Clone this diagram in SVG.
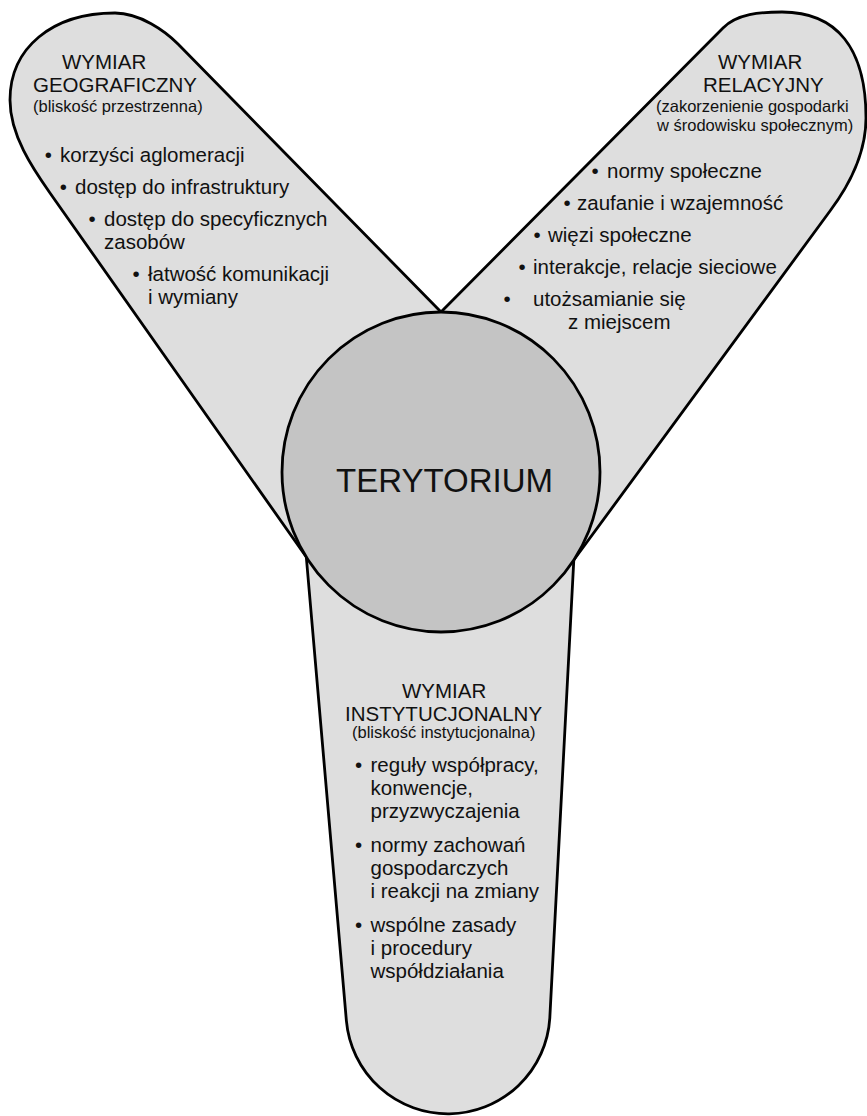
<svg xmlns="http://www.w3.org/2000/svg" width="867" height="1116" viewBox="0 0 867 1116">
<style>
.lobe{fill:#dedede;stroke:#000;stroke-width:2.8;stroke-linejoin:round}
.core{fill:#c4c4c4;stroke:#000;stroke-width:2.8}
text{font-family:"Liberation Sans",Arial,sans-serif;fill:#111}
.h{font-size:20.5px}
.s{font-size:16.5px}
.c{text-anchor:middle}
.t{font-size:33px}
</style>
<rect width="867" height="1116" fill="#fff"/>
<g id="lobe-geo">
<path class="lobe" d="M441,472 L306.3,557 L50,193 C32.7,168.5 10,135 10,100 C10,48 52,13 115,13 C140,13 165.4,31.2 178,44 L441,312 Z"/>
</g>
<g id="lobe-rel">
<path class="lobe" d="M441,472 L441,312 L723,28 C737.1,13.8 760,12 782,12 C836.6,12 866,48 866,118 C866,158 845,191 830,211 L573.8,560 Z"/>
</g>
<g id="lobe-inst">
<path class="lobe" d="M441,472 L306.3,557 L346.4,1020.9 A102,102 0 0 0 549.8,1018.2 L573.8,560 Z"/>
</g>
<g id="connectors"></g>
<g id="core">
<ellipse class="core" cx="441" cy="472" rx="159" ry="160"/>
<text class="t c" x="444.5" y="492">TERYTORIUM</text>
</g>
<g id="text-geo">
<text class="h" x="62" y="69">WYMIAR</text>
<text class="h" x="33" y="92">GEOGRAFICZNY</text>
<text class="s" x="33" y="112">(bliskość przestrzenna)</text>
<text class="h c" x="48.3" y="162">•</text><text class="h" x="60" y="162">korzyści aglomeracji</text>
<text class="h c" x="63.3" y="194">•</text><text class="h" x="75" y="194">dostęp do infrastruktury</text>
<text class="h c" x="92" y="226">•</text><text class="h" x="104" y="226">dostęp do specyficznych</text>
<text class="h" x="104" y="249">zasobów</text>
<text class="h c" x="136" y="281">•</text><text class="h" x="148" y="281">łatwość komunikacji</text>
<text class="h" x="148" y="304">i wymiany</text>
</g>
<g id="text-rel">
<text class="h" x="718" y="69">WYMIAR</text>
<text class="h" x="703" y="92">RELACYJNY</text>
<text class="s" x="656" y="112">(zakorzenienie gospodarki</text>
<text class="s" x="657" y="131">w środowisku społecznym)</text>
<text class="h c" x="595" y="178">•</text><text class="h" x="607" y="178">normy społeczne</text>
<text class="h c" x="567" y="210">•</text><text class="h" x="577" y="210">zaufanie i wzajemność</text>
<text class="h c" x="537" y="242">•</text><text class="h" x="548" y="242">więzi społeczne</text>
<text class="h c" x="522" y="274">•</text><text class="h" x="533" y="274">interakcje, relacje sieciowe</text>
<text class="h c" x="507" y="306">•</text><text class="h" x="533" y="306">utożsamianie się</text>
<text class="h" x="568" y="329">z miejscem</text>
</g>
<g id="text-inst">
<text class="h" x="402" y="698">WYMIAR</text>
<text class="h" x="345" y="721">INSTYTUCJONALNY</text>
<text class="s" x="352" y="738">(bliskość instytucjonalna)</text>
<text class="h c" x="358.5" y="772">•</text><text class="h" x="370.5" y="772">reguły współpracy,</text>
<text class="h" x="370.5" y="795">konwencje,</text>
<text class="h" x="370.5" y="818">przyzwyczajenia</text>
<text class="h c" x="358.5" y="852">•</text><text class="h" x="370.5" y="852">normy zachowań</text>
<text class="h" x="370.5" y="875">gospodarczych</text>
<text class="h" x="370.5" y="898">i reakcji na zmiany</text>
<text class="h c" x="358.5" y="932">•</text><text class="h" x="370.5" y="932">wspólne zasady</text>
<text class="h" x="370.5" y="955">i procedury</text>
<text class="h" x="370.5" y="978">współdziałania</text>
</g>
</svg>
